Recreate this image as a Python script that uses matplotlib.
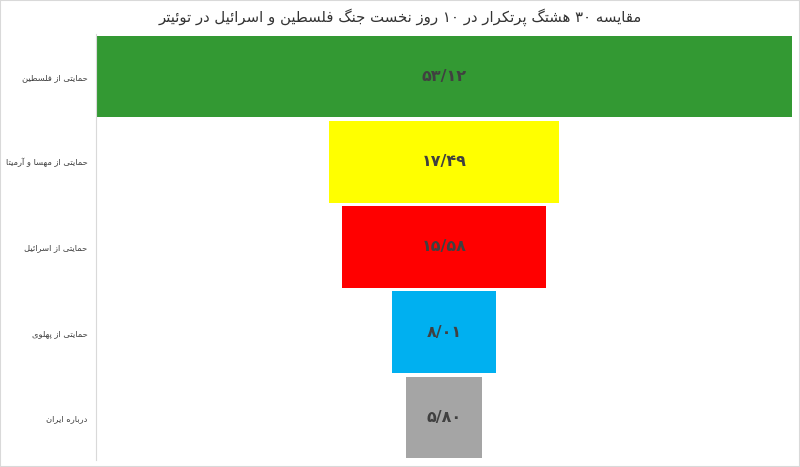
import matplotlib
matplotlib.use('Agg')
import matplotlib.pyplot as plt
from matplotlib.patches import Rectangle

# داده‌ها
title = 'مقایسه ۳۰ هشتگ پرتکرار در ۱۰ روز نخست جنگ فلسطین و اسرائیل در توئیتر'
categories = ['حمایتی از فلسطین', 'حمایتی از مهسا و آرمیتا', 'حمایتی از اسرائیل',
              'حمایتی از پهلوی', 'درباره ایران']
values = [53.12, 17.49, 15.58, 8.01, 5.80]
value_labels = ['۵۳/۱۲', '۱۷/۴۹', '۱۵/۵۸', '۸/۰۱', '۵/۸۰']
colors = ['#339933', '#FFFF00', '#FF0000', '#00B0F0', '#A5A5A5']

# Contextual forms: (isolated, final, initial, medial)
FORMS = {
    'ا': (0xFE8D, 0xFE8E, None, None),
    'آ': (0xFE81, 0xFE82, None, None),
    'ب': (0xFE8F, 0xFE90, 0xFE91, 0xFE92),
    'پ': (0xFB56, 0xFB57, 0xFB58, 0xFB59),
    'ت': (0xFE95, 0xFE96, 0xFE97, 0xFE98),
    'ج': (0xFE9D, 0xFE9E, 0xFE9F, 0xFEA0),
    'ح': (0xFEA1, 0xFEA2, 0xFEA3, 0xFEA4),
    'خ': (0xFEA5, 0xFEA6, 0xFEA7, 0xFEA8),
    'د': (0xFEA9, 0xFEAA, None, None),
    'ر': (0xFEAD, 0xFEAE, None, None),
    'ز': (0xFEAF, 0xFEB0, None, None),
    'س': (0xFEB1, 0xFEB2, 0xFEB3, 0xFEB4),
    'ش': (0xFEB5, 0xFEB6, 0xFEB7, 0xFEB8),
    'ط': (0xFEC1, 0xFEC2, 0xFEC3, 0xFEC4),
    'ف': (0xFED1, 0xFED2, 0xFED3, 0xFED4),
    'ق': (0xFED5, 0xFED6, 0xFED7, 0xFED8),
    'ک': (0xFB8E, 0xFB8F, 0xFB90, 0xFB91),
    'گ': (0xFB92, 0xFB93, 0xFB94, 0xFB95),
    'ل': (0xFEDD, 0xFEDE, 0xFEDF, 0xFEE0),
    'م': (0xFEE1, 0xFEE2, 0xFEE3, 0xFEE4),
    'ن': (0xFEE5, 0xFEE6, 0xFEE7, 0xFEE8),
    'ه': (0xFEE9, 0xFEEA, 0xFEEB, 0xFEEC),
    'و': (0xFEED, 0xFEEE, None, None),
    'ی': (0xFBFC, 0xFBFD, 0xFBFE, 0xFBFF),
    'ئ': (0xFE89, 0xFE8A, 0xFE8B, 0xFE8C),
}


def dual(c):
    return c in FORMS and FORMS[c][2] is not None


def fa(text):
    # شکل‌دهی حروف و برگرداندن ترتیب برای نمایش راست به چپ
    out = []
    n = len(text)
    for i, c in enumerate(text):
        if c not in FORMS:
            out.append(c)
            continue
        prev_j = i > 0 and dual(text[i - 1])
        next_j = dual(c) and i + 1 < n and text[i + 1] in FORMS
        iso, fin, ini, med = FORMS[c]
        if prev_j and next_j:
            code = med
        elif prev_j:
            code = fin
        elif next_j:
            code = ini
        else:
            code = iso
        out.append(chr(code))
    s = ''.join(out)[::-1]
    # اعداد چپ به راست بمانند
    res, run = [], []
    for c in s:
        if '\u06f0' <= c <= '\u06f9' or c.isdigit():
            run.append(c)
        else:
            res.extend(run[::-1])
            run = []
            res.append(c)
    res.extend(run[::-1])
    return ''.join(res)


plt.rcParams['font.family'] = ['DejaVu Sans']

fig = plt.figure(figsize=(8, 4.67), dpi=100)
ax = fig.add_axes([96 / 800, 7 / 467, 696 / 800, 426 / 467])

y = list(range(len(values)))
ax.barh(y, values, left=[-v / 2 for v in values], height=0.96, color=colors)

for yi, v, lab in zip(y, values, value_labels):
    ax.text(0, yi, lab, ha='center', va='center', fontsize=11.5,
            fontweight='bold', color='#404040')

half = max(values) / 2
ax.set_xlim(-half, half)
ax.set_ylim(len(values) - 0.5, -0.5)
ax.set_xticks([])
ax.set_yticks(y)
ax.set_yticklabels([fa(c) for c in categories], fontsize=6, color='#404040')
ax.tick_params(axis='y', length=0, pad=6)
for s in ['top', 'right', 'bottom']:
    ax.spines[s].set_visible(False)
ax.spines['left'].set_color('#d9d9d9')

fig.text(0.5, 1 - 17 / 467, fa(title), ha='center', va='center',
         fontsize=10.7, color='#333333')

fig.patches.append(Rectangle((0, 0), 1, 1, transform=fig.transFigure,
                             fill=False, edgecolor='#d9d9d9', linewidth=1.5))

fig.savefig('out.png', dpi=100)
